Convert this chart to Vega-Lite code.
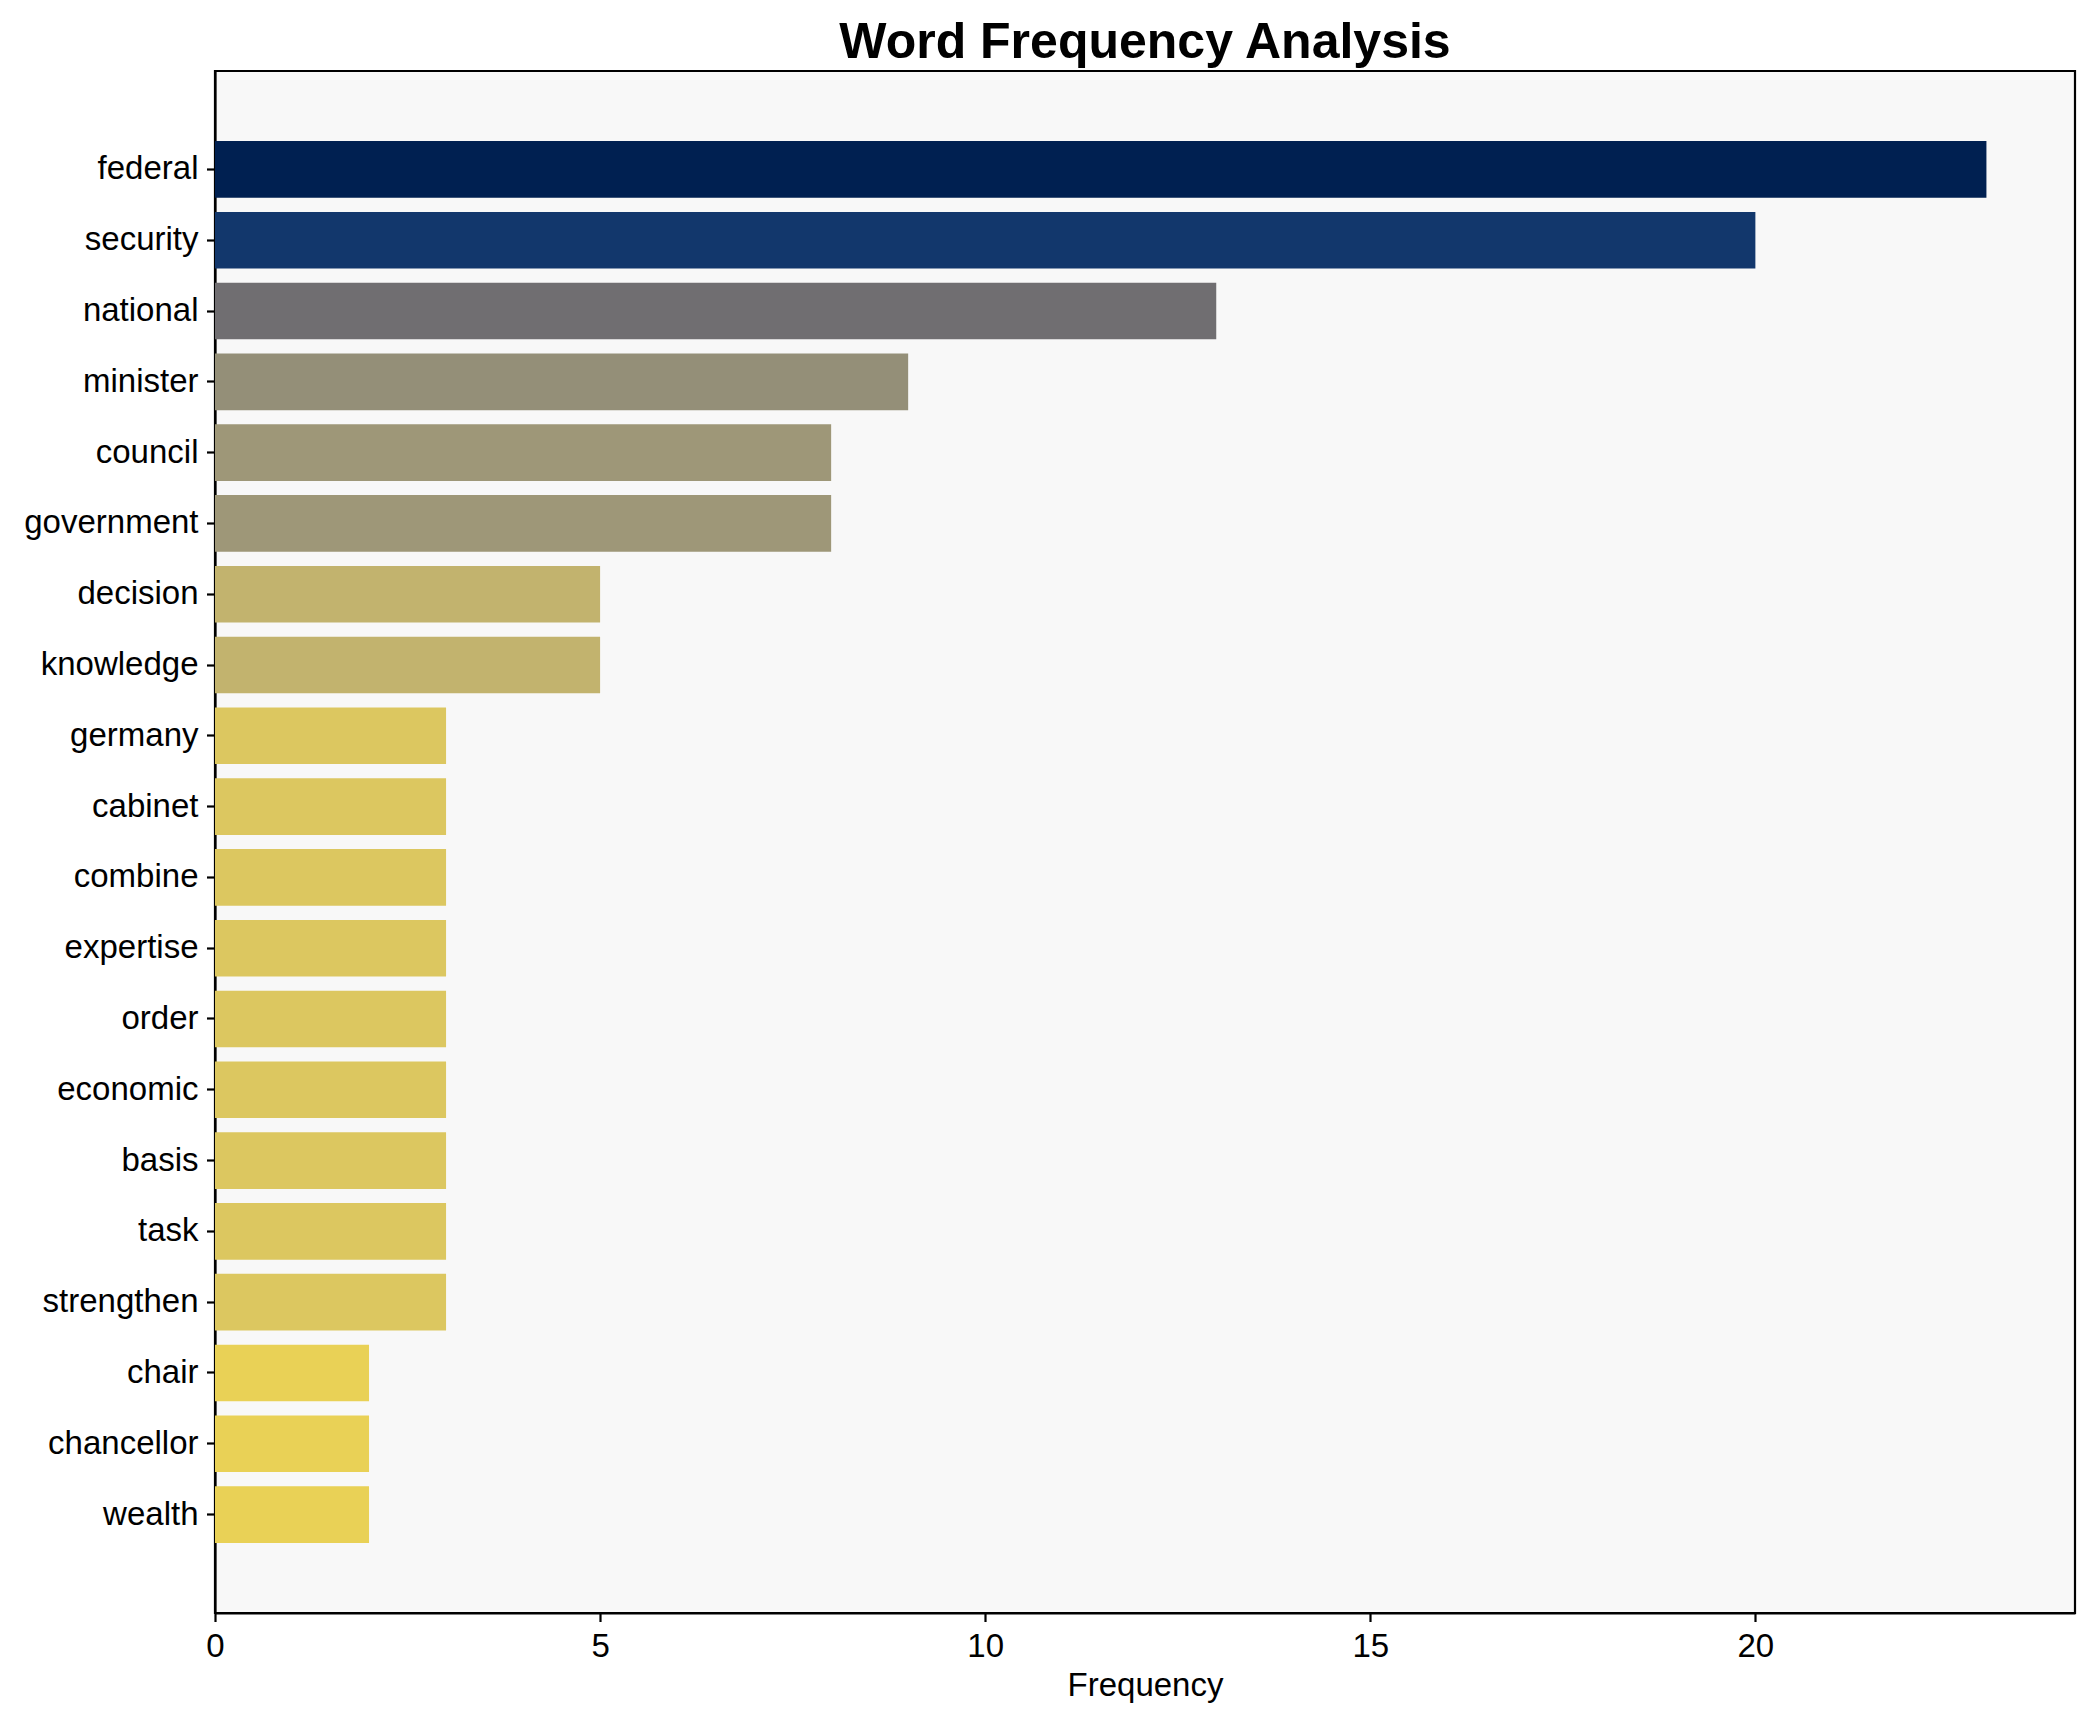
{
  "$schema": "https://vega.github.io/schema/vega-lite/v6.json",
  "width": 1860,
  "height": 1542,
  "autosize": {"type": "none"},
  "padding": {"left": 215, "top": 71, "right": 20, "bottom": 109},
  "background": "white",
  "title": {
    "text": "Word Frequency Analysis",
    "font": "Liberation Sans",
    "fontSize": 50,
    "fontWeight": "bold",
    "color": "black",
    "anchor": "middle",
    "offset": 3
  },
  "config": {
    "view": {"fill": "#f8f8f8", "stroke": "black", "strokeWidth": 2.2},
    "axis": {
      "labelFont": "Liberation Sans",
      "titleFont": "Liberation Sans",
      "labelFontSize": 33,
      "titleFontSize": 33,
      "labelColor": "black",
      "titleColor": "black",
      "titleFontWeight": "normal",
      "tickColor": "black",
      "tickWidth": 2.2,
      "tickSize": 8.5,
      "labelPadding": 8.5,
      "domainColor": "black",
      "domainWidth": 2.2,
      "grid": false,
      "zindex": 1
    }
  },
  "data": {
    "values": [
      {"word": "federal", "freq": 23},
      {"word": "security", "freq": 20},
      {"word": "national", "freq": 13},
      {"word": "minister", "freq": 9},
      {"word": "council", "freq": 8},
      {"word": "government", "freq": 8},
      {"word": "decision", "freq": 5},
      {"word": "knowledge", "freq": 5},
      {"word": "germany", "freq": 3},
      {"word": "cabinet", "freq": 3},
      {"word": "combine", "freq": 3},
      {"word": "expertise", "freq": 3},
      {"word": "order", "freq": 3},
      {"word": "economic", "freq": 3},
      {"word": "basis", "freq": 3},
      {"word": "task", "freq": 3},
      {"word": "strengthen", "freq": 3},
      {"word": "chair", "freq": 2},
      {"word": "chancellor", "freq": 2},
      {"word": "wealth", "freq": 2}
    ]
  },
  "mark": {"type": "bar"},
  "encoding": {
    "y": {
      "field": "word",
      "type": "nominal",
      "sort": null,
      "scale": {"paddingInner": 0.2, "paddingOuter": 0.99},
      "axis": {"title": null, "labelLimit": 400}
    },
    "x": {
      "field": "freq",
      "type": "quantitative",
      "scale": {"domain": [0, 24.15], "nice": false, "zero": true},
      "axis": {"title": "Frequency", "values": [0, 5, 10, 15, 20], "titlePadding": 6, "labelFlush": false}
    },
    "color": {
      "field": "freq",
      "type": "quantitative",
      "scale": {"scheme": "cividis", "domain": [0, 23], "reverse": true},
      "legend": null
    }
  }
}
